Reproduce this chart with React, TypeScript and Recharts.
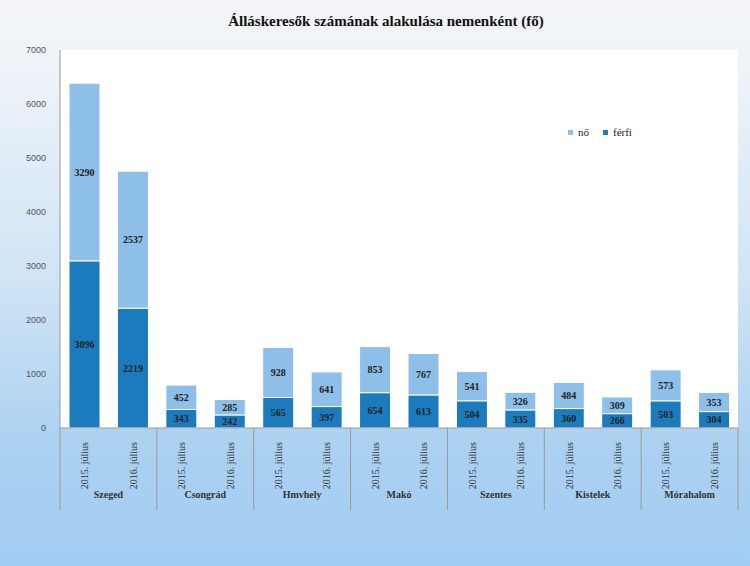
import { BarChart, Bar, XAxis, YAxis, CartesianGrid, Legend, LabelList } from 'recharts';

const towns = ['Szeged', 'Csongrád', 'Hmvhely', 'Makó', 'Szentes', 'Kistelek', 'Mórahalom'];
const periods = ['2015. július', '2016. július'];
const ferfi = [3096, 2219, 343, 242, 565, 397, 654, 613, 504, 335, 360, 266, 503, 304];
const no = [3290, 2537, 452, 285, 928, 641, 853, 767, 541, 326, 484, 309, 573, 353];
const yTicks = [0, 1000, 2000, 3000, 4000, 5000, 6000, 7000];

const data = ferfi.map((f, i) => ({
  key: `${towns[Math.floor(i / 2)]}|${periods[i % 2]}`,
  period: periods[i % 2],
  group: towns[Math.floor(i / 2)],
  ferfi: f,
  no: no[i],
}));

const DARK = '#1b7bbd';
const LIGHT = '#8ebfe9';
const AXIS = '#9a9a9a';
const SERIF = '"Liberation Serif", "DejaVu Serif", serif';

function PeriodTick(props: any) {
  const { x, y, payload } = props;
  const label = String(payload.value).split('|')[1];
  return (
    <text
      x={0}
      y={0}
      transform={`translate(${x + 4},${y + 6}) rotate(-90)`}
      textAnchor="end"
      fontFamily={SERIF}
      fontSize={10}
      fill="#333"
    >
      {label}
    </text>
  );
}

function GroupTick(props: any) {
  const { x, y, payload, index, visibleTicksCount } = props;
  const off = payload.offset ?? 0;
  const last = index === (visibleTicksCount ?? towns.length) - 1;
  return (
    <g>
      <line x1={x - off} x2={x - off} y1={y - 60} y2={y + 22} stroke={AXIS} />
      {last && <line x1={x + off} x2={x + off} y1={y - 60} y2={y + 22} stroke={AXIS} />}
      <text x={x} y={y + 10} textAnchor="middle" fontFamily={SERIF} fontSize={10} fontWeight="bold" fill="#333">
        {payload.value}
      </text>
    </g>
  );
}

function LegendContent(props: any) {
  const items = [...(props.payload || [])].reverse();
  return (
    <div style={{ display: 'flex', gap: 14, fontFamily: SERIF, fontSize: 11, color: '#222' }}>
      {items.map((it: any) => (
        <span key={it.value} style={{ display: 'flex', alignItems: 'center', gap: 5 }}>
          <span style={{ width: 5, height: 5, background: it.color, display: 'inline-block' }} />
          {it.value}
        </span>
      ))}
    </div>
  );
}

export default function App() {
  return (
    <div
      style={{
        position: 'relative',
        width: 750,
        height: 566,
        background: 'linear-gradient(180deg, #f3f5f7 0%, #eef3f8 12%, #cfe4f5 50%, #acd1f1 78%, #a2cdf2 100%)',
        overflow: 'hidden',
      }}
    >
      <style>{'body{margin:0}'}</style>
      <div
        style={{
          position: 'absolute',
          top: 13,
          left: 0,
          width: 772,
          textAlign: 'center',
          fontFamily: SERIF,
          fontWeight: 'bold',
          fontSize: 15,
          color: '#111',
        }}
      >
        Álláskeresők számának alakulása nemenként (fő)
      </div>
      <BarChart
        width={750}
        height={566}
        data={data}
        margin={{ top: 50, right: 12, bottom: 56, left: 0 }}
        barSize={31}
        style={{ position: 'absolute', top: 0, left: 0 }}
      >
        <CartesianGrid horizontal={false} vertical={false} fill="#ffffff" />
        <XAxis
          dataKey="key"
          height={58}
          interval={0}
          tick={<PeriodTick />}
          tickLine={false}
          axisLine={{ stroke: AXIS }}
        />
        <XAxis
          xAxisId="grp"
          dataKey="group"
          allowDuplicatedCategory={false}
          height={24}
          interval={0}
          tick={<GroupTick />}
          tickLine={false}
          axisLine={false}
          tickSize={0}
        />
        <YAxis
          width={60}
          domain={[0, 7000]}
          ticks={yTicks}
          tickSize={0}
          tickMargin={14}
          tickLine={false}
          axisLine={{ stroke: AXIS }}
          tick={{ fontSize: 9, fill: '#555', fontFamily: '"Liberation Sans", Arial, sans-serif' }}
        />
        <Legend
          verticalAlign="middle"
          align="center"
          layout="horizontal"
          wrapperStyle={{ top: 126, left: 568, width: 120 }}
          content={<LegendContent />}
        />
        <Bar dataKey="ferfi" name="férfi" stackId="a" fill={DARK} stroke="#ffffff" strokeWidth={1} isAnimationActive={false}>
          <LabelList dataKey="ferfi" position="center" fontFamily={SERIF} fontSize={10} fontWeight="bold" fill="#222" />
        </Bar>
        <Bar dataKey="no" name="nő" stackId="a" fill={LIGHT} stroke="#ffffff" strokeWidth={1} isAnimationActive={false}>
          <LabelList dataKey="no" position="center" fontFamily={SERIF} fontSize={10} fontWeight="bold" fill="#222" />
        </Bar>
      </BarChart>
    </div>
  );
}
